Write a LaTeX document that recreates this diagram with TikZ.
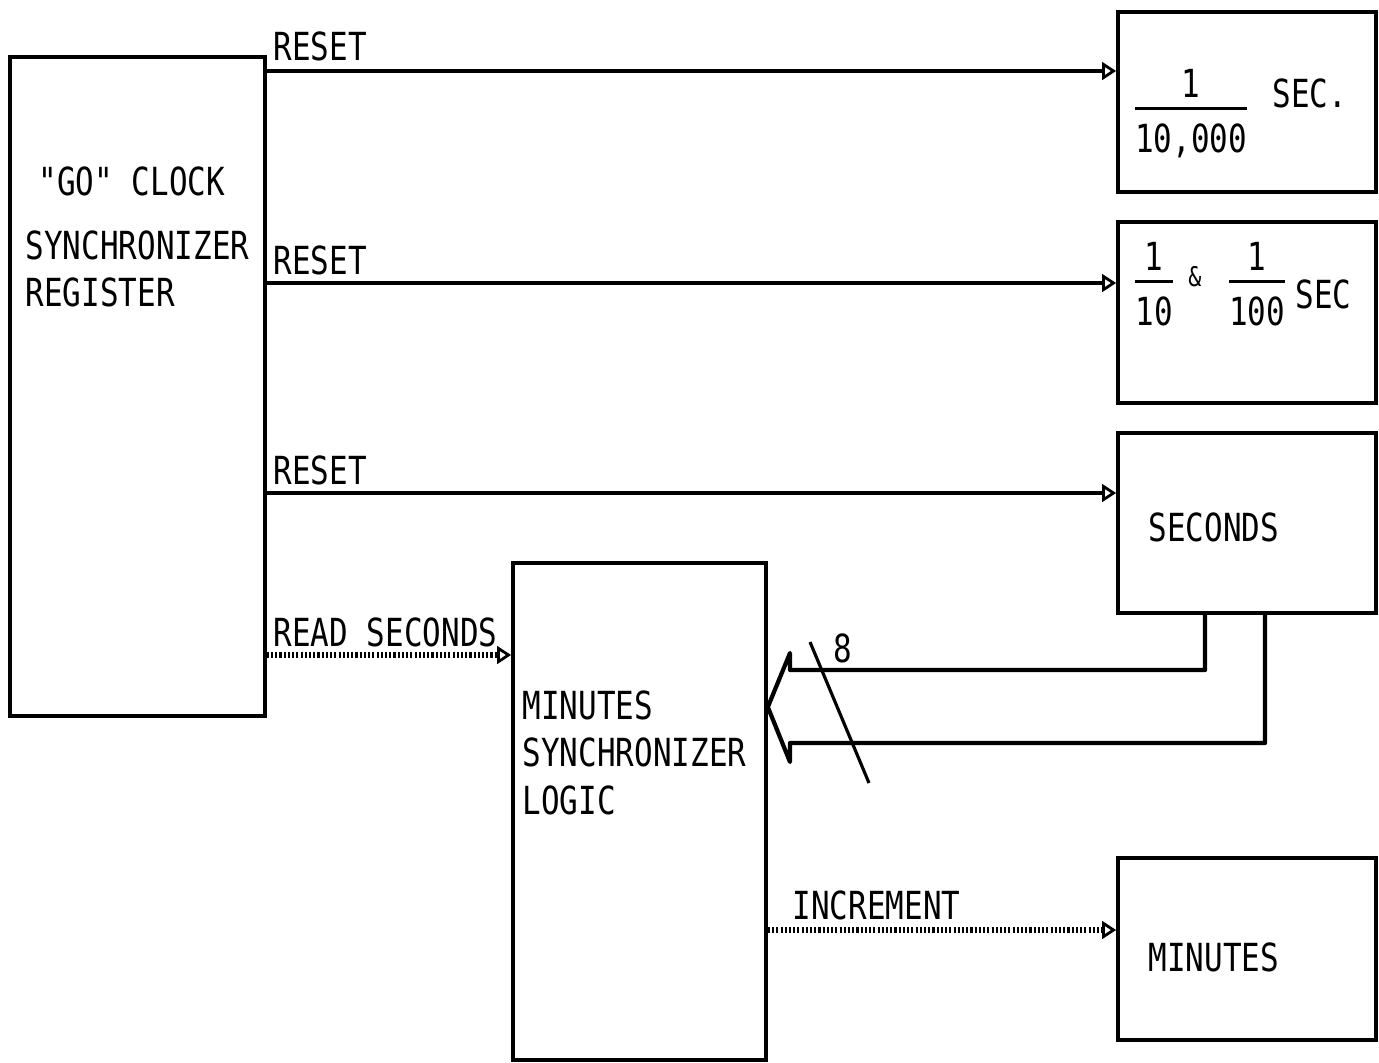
\documentclass[tikz,border=0pt]{standalone}
\usepackage{fontspec}
\newfontfamily\plotfont[FakeStretch=0.8]{DejaVu Sans Mono}
\usetikzlibrary{arrows.meta, calc}
\newcommand{\pfrac}[2]{\setlength{\arrayrulewidth}{1pt}\renewcommand{\arraystretch}{0.9}\begin{tabular}{@{}c@{}}#1\\[-1pt]\hline\rule{0pt}{12pt}#2\end{tabular}}
\tikzset{
    blockbox/.style={
        draw=black,
        line width=1pt,
        minimum width=#1,
        inner sep=0pt
    },
    blockbox/.default=2.58cm,
    plottext/.style={
        font=\plotfont\fontsize{11}{13}\selectfont,
        inner sep=0pt,
        anchor=base west
    },
    sigarrow/.style={
        -{Triangle[open, length=4pt, width=5pt, line width=0.8pt]},
        line width=1.4pt
    },
    dotarrow/.style={
        -{Triangle[open, length=4pt, width=5pt, line width=0.8pt]},
        line width=1.6pt,
        dash pattern=on 0.6pt off 0.6pt
    },
    busline/.style={
        line width=1.2pt,
        line join=round
    }
}

\begin{document}
\begin{tikzpicture}[x=0.01cm, y=-0.01cm]
        \useasboundingbox (0,0) rectangle (1379,1062);

        % Registers
        \node[blockbox=2.55cm, minimum height=6.59cm] (sync) at (137.5,386.5) {};
        \node[blockbox, minimum height=1.80cm] (tenk) at (1247,102) {};
        \node[blockbox, minimum height=1.81cm] (hund) at (1247,312.5) {};
        \node[blockbox, minimum height=1.80cm] (sec) at (1247,523) {};
        \node[blockbox, minimum height=1.82cm] (mins) at (1247,949) {};
        \node[blockbox=2.53cm, minimum height=4.97cm] (logic) at (639.5,811.5) {};

        % Box texts
        \node[plottext] (go) at (38,195) {"GO" CLOCK};
        \node[plottext] (syncA) at (25,259) {SYNCHRONIZER};
        \node[plottext] (reg) at (25,306) {REGISTER};
        \node[plottext] (minA) at (522,719) {MINUTES};
        \node[plottext] (syncB) at (522,766) {SYNCHRONIZER};
        \node[plottext] (logl) at (522,814) {LOGIC};
        \node[plottext] (secl) at (1148,541) {SECONDS};
        \node[plottext] (minl) at (1148,971) {MINUTES};

        % Fractions
        \node[plottext, anchor=center] (frA) at (1191,117) {\pfrac{1}{10,000}};
        \node[plottext] (secA) at (1272,107) {SEC.};
        \node[plottext, anchor=center] (frB) at (1154,290) {\pfrac{1}{10}};
        \node[plottext, anchor=center, scale=0.7] (amp) at (1195,277) {\&};
        \node[plottext, anchor=center] (frC) at (1257,290) {\pfrac{1}{100}};
        \node[plottext] (secB) at (1295,308) {SEC};

        % Reset lines
        \draw[sigarrow] (sync.east |- 0,71) -- (tenk.west |- 0,71);
        \draw[sigarrow] (sync.east |- 0,283) -- (hund.west |- 0,283);
        \draw[sigarrow] (sync.east |- 0,493) -- (sec.west |- 0,493);
        \node[plottext] (rstA) at (273,60) {RESET};
        \node[plottext] (rstB) at (273,274) {RESET};
        \node[plottext] (rstC) at (273,484) {RESET};

        % Dotted controls
        \draw[dotarrow] (sync.east |- 0,655) -- (logic.west |- 0,655);
        \node[plottext] (rdsec) at (273,646) {READ SECONDS};
        \draw[dotarrow] (logic.east |- 0,930) -- (mins.west |- 0,930);
        \node[plottext] (inc) at (792,919) {INCREMENT};

        % Seconds bus
        \coordinate (tip) at (logic.east |- 0,707);
        \draw[busline] ($(sec.south)+(-42,0)$) |- (790,670) -- (790,653) -- (tip)
            -- (790,762) -- (790,743) -| ($(sec.south)+(18,0)$);
        \draw[line width=0.9pt] (810,642) -- (869,783);
        \node[plottext] (width) at (833,662) {8};
    \end{tikzpicture}
\end{document}
